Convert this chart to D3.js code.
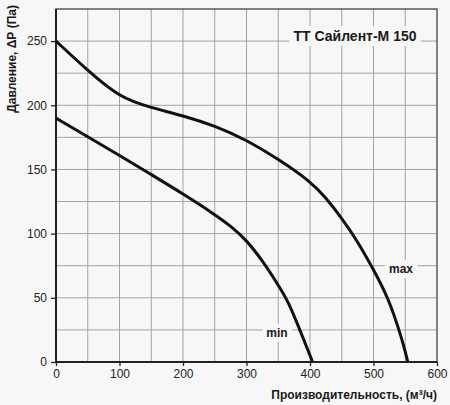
<!DOCTYPE html>
<html>
<head>
<meta charset="utf-8">
<script src="https://cdn.jsdelivr.net/npm/d3@7"></script>
<style>
  html, body { margin: 0; padding: 0; background: #f7f7f7; }
  svg { display: block; font-family: "Liberation Sans", Arial, sans-serif; }
</style>
</head>
<body>
<svg id="chart"></svg>
<script>
// flow (m3/h) vs pressure (Pa)
const maxFlow = [0, 50, 100, 150, 200, 250, 300, 350, 400, 425, 450, 475, 500, 523, 539, 548, 554]
const maxPres = [250, 227, 206, 198, 192, 184, 173, 158, 141, 128, 112, 94, 72, 50, 27, 12, 0]
const minFlow = [0, 50, 100, 150, 200, 250, 275, 300, 325, 350, 366, 384, 397, 404]
const minPres = [190, 175.5, 161, 146, 131, 115, 106, 95, 79, 60, 47, 25, 9, 0]

const xTicks = [0, 100, 200, 300, 400, 500, 600]
const yTicks = [0, 50, 100, 150, 200, 250]
const xGrid = d3.range(50, 600, 50)
const yGrid = d3.range(25, 275, 25)

const title = "ТТ Сайлент-М 150"
const xLabel = "Производительность, (м³/ч)"
const yLabel = "Давление, ΔР (Па)"

var width = 450, height = 405
var margin = {top: 9, right: 13, bottom: 43, left: 56}

const svg = d3.select("#chart")
    .attr("width", width)
    .attr("height", height)

svg.append("rect").attr("width", width).attr("height", height).attr("fill", "#f7f7f7")

const xScale = d3.scaleLinear().domain([0, 600]).range([margin.left, width - margin.right])
const yScale = d3.scaleLinear().domain([0, 275]).range([height - margin.bottom, margin.top])

// grid
svg.append("g").selectAll("line")
    .data(xGrid)
    .join("line")
        .attr("x1", d => xScale(d)).attr("x2", d => xScale(d))
        .attr("y1", yScale(0)).attr("y2", yScale(275))
        .attr("stroke", "#a3a3a3").attr("stroke-width", 1)

svg.append("g").selectAll("line")
    .data(yGrid)
    .join("line")
        .attr("y1", d => yScale(d)).attr("y2", d => yScale(d))
        .attr("x1", xScale(0)).attr("x2", xScale(600))
        .attr("stroke", "#a3a3a3").attr("stroke-width", 1)

// axes
const xAxis = d3.axisBottom(xScale).tickValues(xTicks).tickSize(4).tickPadding(3)
const yAxis = d3.axisLeft(yScale).tickValues(yTicks).tickSize(5).tickPadding(4)

svg.append("g")
    .attr("transform", `translate(0, ${yScale(0)})`)
    .call(xAxis)
    .call(g => g.select(".domain").remove())
    .call(g => g.selectAll(".tick line").attr("stroke", "#222").attr("stroke-width", 1.3))
    .call(g => g.selectAll(".tick text").attr("fill", "#222").style("font-size", "12px")
        .style("font-family", "Liberation Sans, Arial, sans-serif"))

svg.append("g")
    .attr("transform", `translate(${xScale(0)}, 0)`)
    .call(yAxis)
    .call(g => g.select(".domain").remove())
    .call(g => g.selectAll(".tick line").attr("stroke", "#222").attr("stroke-width", 1.3))
    .call(g => g.selectAll(".tick text").attr("fill", "#222").style("font-size", "12px")
        .style("font-family", "Liberation Sans, Arial, sans-serif"))

// frame
svg.append("rect")
    .attr("x", xScale(0)).attr("y", yScale(275))
    .attr("width", xScale(600) - xScale(0))
    .attr("height", yScale(0) - yScale(275))
    .attr("fill", "none").attr("stroke", "#333").attr("stroke-width", 1.2)
svg.append("line")
    .attr("x1", xScale(0)).attr("x2", xScale(600))
    .attr("y1", yScale(0)).attr("y2", yScale(0))
    .attr("stroke", "#222").attr("stroke-width", 2)
svg.append("line")
    .attr("x1", xScale(0)).attr("x2", xScale(0))
    .attr("y1", yScale(0)).attr("y2", yScale(275))
    .attr("stroke", "#222").attr("stroke-width", 2)

// curves
const line = d3.line()
    .x(d => xScale(d[0]))
    .y(d => yScale(d[1]))
    .curve(d3.curveBasis)

svg.append("path")
    .datum(maxFlow.map((f, i) => [f, maxPres[i]]))
    .attr("d", line)
    .attr("fill", "none").attr("stroke", "#111").attr("stroke-width", 3)

svg.append("path")
    .datum(minFlow.map((f, i) => [f, minPres[i]]))
    .attr("d", line)
    .attr("fill", "none").attr("stroke", "#111").attr("stroke-width", 3)

// labels with background knocking out the grid
function boxedText(x, y, txt, size) {
    const g = svg.append("g")
    const t = g.append("text")
        .attr("x", x).attr("y", y)
        .attr("text-anchor", "middle")
        .attr("dominant-baseline", "central")
        .attr("fill", "#1a1a1a")
        .style("font-weight", "bold")
        .style("font-size", size + "px")
        .text(txt)
    const bb = t.node().getBBox()
    g.insert("rect", "text")
        .attr("x", bb.x - 4).attr("y", bb.y - 2)
        .attr("width", bb.width + 8).attr("height", bb.height + 4)
        .attr("fill", "#f7f7f7")
}

boxedText(355, 36, title, 14)
boxedText(401, 269, "max", 12)
boxedText(277, 333, "min", 12)

// axis titles
svg.append("text")
    .attr("x", xScale(600)).attr("y", 399)
    .attr("text-anchor", "end")
    .attr("fill", "#1a1a1a")
    .style("font-weight", "bold").style("font-size", "12px")
    .text(xLabel)

svg.append("text")
    .attr("transform", `translate(16, 5) rotate(-90)`)
    .attr("text-anchor", "end")
    .attr("fill", "#1a1a1a")
    .style("font-weight", "bold").style("font-size", "12px")
    .text(yLabel)
</script>
</body>
</html>
